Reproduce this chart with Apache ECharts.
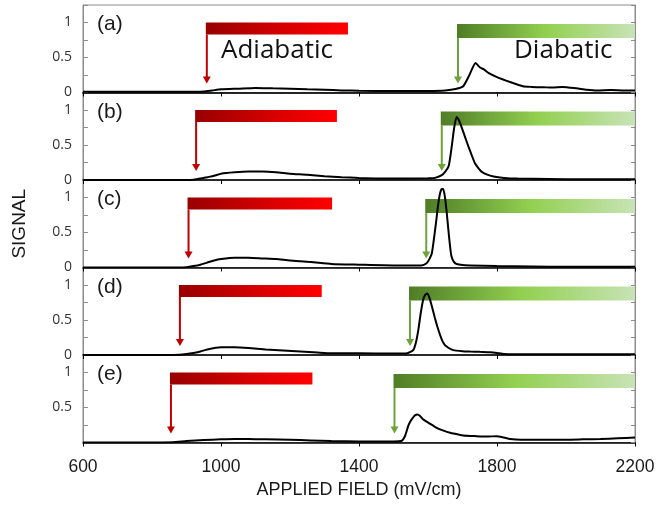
<!DOCTYPE html>
<html>
<head>
<meta charset="utf-8">
<script src="https://cdn.jsdelivr.net/npm/echarts@6/dist/echarts.min.js"></script>
<style>
  html, body { margin: 0; padding: 0; background: #fff; }
  #chart { width: 656px; height: 507px; }
</style>
</head>
<body>
<div id="chart"></div>
<script>
// field ticks
const fieldTicks = [600, 1000, 1400, 1800, 2200]
const panelLabels = ['(a)', '(b)', '(c)', '(d)', '(e)']

// traces (field in mV/cm, signal normalised)
const fieldA = [600, 700, 800, 900, 950, 975, 1000, 1050, 1100, 1150, 1200, 1250, 1300, 1350, 1400, 1500, 1600, 1650, 1680, 1702, 1720, 1738, 1750, 1762, 1775, 1800, 1838, 1875, 1900, 1935, 1960, 1990, 2030, 2060, 2090, 2130, 2170, 2200]
const signalA = [0.01, 0.01, 0.012, 0.01, 0.015, 0.03, 0.045, 0.055, 0.065, 0.06, 0.055, 0.045, 0.04, 0.03, 0.025, 0.02, 0.022, 0.03, 0.05, 0.09, 0.25, 0.42, 0.36, 0.33, 0.28, 0.22, 0.15, 0.09, 0.08, 0.075, 0.07, 0.08, 0.06, 0.04, 0.03, 0.035, 0.03, 0.03]

const fieldB = [600, 700, 800, 900, 920, 940, 960, 980, 1000, 1040, 1080, 1120, 1160, 1200, 1250, 1300, 1350, 1400, 1500, 1600, 1620, 1640, 1650, 1660, 1668, 1676, 1683, 1690, 1697, 1707, 1717, 1727, 1736, 1746, 1755, 1770, 1790, 1820, 1860, 1950, 2050, 2200]
const signalB = [0, 0, 0, 0, 0.005, 0.02, 0.04, 0.06, 0.09, 0.11, 0.12, 0.12, 0.11, 0.09, 0.075, 0.055, 0.04, 0.03, 0.02, 0.025, 0.03, 0.07, 0.12, 0.2, 0.45, 0.75, 0.9, 0.85, 0.76, 0.62, 0.48, 0.35, 0.24, 0.17, 0.12, 0.08, 0.05, 0.03, 0.02, 0.015, 0.01, 0.01]

const fieldC = [600, 700, 800, 880, 900, 920, 940, 960, 980, 1000, 1040, 1080, 1120, 1160, 1200, 1260, 1320, 1400, 1500, 1580, 1596, 1604, 1611, 1617, 1623, 1629, 1635, 1640, 1644, 1649, 1654, 1659, 1664, 1668, 1675, 1683, 1700, 1722, 1800, 1900, 2000, 2100, 2200]
const signalC = [0, 0, 0, 0, 0.005, 0.02, 0.04, 0.07, 0.1, 0.12, 0.14, 0.14, 0.13, 0.12, 0.1, 0.08, 0.05, 0.04, 0.03, 0.03, 0.06, 0.12, 0.2, 0.4, 0.63, 0.88, 1.06, 1.12, 1.12, 1.01, 0.8, 0.54, 0.3, 0.16, 0.08, 0.05, 0.035, 0.03, 0.02, 0.015, 0.01, 0.01, 0.01]

const fieldD = [600, 700, 800, 880, 900, 920, 940, 960, 1000, 1040, 1080, 1130, 1180, 1230, 1280, 1320, 1400, 1500, 1540, 1557, 1565, 1572, 1579, 1586, 1592, 1598, 1604, 1611, 1620, 1630, 1640, 1649, 1660, 1673, 1700, 1722, 1750, 1780, 1800, 1820, 1900, 2000, 2100, 2200]
const signalD = [0, 0, 0, 0.005, 0.015, 0.03, 0.05, 0.08, 0.11, 0.11, 0.1, 0.08, 0.065, 0.05, 0.035, 0.025, 0.025, 0.02, 0.025, 0.07, 0.18, 0.36, 0.6, 0.79, 0.86, 0.88, 0.82, 0.7, 0.53, 0.36, 0.22, 0.14, 0.1, 0.07, 0.055, 0.05, 0.045, 0.04, 0.03, 0.015, 0.01, 0.01, 0.01, 0.01]

const fieldE = [600, 700, 800, 860, 900, 950, 1000, 1040, 1080, 1130, 1200, 1260, 1320, 1400, 1500, 1524, 1534, 1543, 1550, 1557, 1563, 1569, 1577, 1586, 1605, 1625, 1645, 1664, 1683, 1702, 1741, 1770, 1799, 1820, 1838, 1870, 1900, 1950, 2000, 2050, 2100, 2150, 2200]
const signalE = [0, 0, 0, 0.005, 0.02, 0.035, 0.045, 0.05, 0.05, 0.045, 0.04, 0.03, 0.02, 0.015, 0.015, 0.025, 0.1, 0.24, 0.31, 0.36, 0.39, 0.4, 0.38, 0.33, 0.27, 0.21, 0.17, 0.14, 0.12, 0.1, 0.09, 0.085, 0.09, 0.07, 0.05, 0.04, 0.04, 0.04, 0.04, 0.045, 0.05, 0.06, 0.07]

// adiabatic / diabatic onset markers (field values)
const adiabaticStart = [956, 925, 903, 878, 852]
const adiabaticEnd = [1368, 1336, 1322, 1292, 1265]
const diabaticStart = [1684, 1637, 1592, 1545, 1500]
const diabaticEnd = [2200, 2200, 2200, 2200, 2200]

const traces = [
  [fieldA, signalA], [fieldB, signalB], [fieldC, signalC], [fieldD, signalD], [fieldE, signalE],
]

const chart = echarts.init(document.getElementById('chart'), null, { renderer: 'canvas' })

const gridTops = [5, 92.5, 180, 267.5, 355]
const gridH = 87.5
const AXIS_FONT = 'Liberation Sans'

const redStops = [
  { offset: 0, color: '#980000' },
  { offset: 0.6, color: '#dc0000' },
  { offset: 1, color: '#ff0000' },
]
const greenStops = [
  { offset: 0, color: '#4f7d26' },
  { offset: 0.5, color: '#92d050' },
  { offset: 1, color: '#c8e3b6' },
]

function markerRenderer(stops, arrowColor, top, thick) {
  return function (params, api) {
    const a = api.coord([api.value(0), top])
    const b = api.coord([api.value(1), top])
    const t = api.coord([api.value(0), 0.13])
    const x0 = a[0]
    const y0 = a[1]
    const ax = x0 + 1
    return {
      type: 'group',
      children: [
        {
          type: 'rect',
          shape: { x: x0, y: y0, width: b[0] - x0, height: thick },
          style: { fill: new echarts.graphic.LinearGradient(0, 0, 1, 0, stops) },
        },
        {
          type: 'line',
          shape: { x1: ax, y1: y0 + thick, x2: ax, y2: t[1] - 6 },
          style: { stroke: arrowColor, lineWidth: 2 },
        },
        {
          type: 'polygon',
          shape: { points: [[ax - 4, t[1] - 7], [ax + 4, t[1] - 7], [ax, t[1]]] },
          style: { fill: arrowColor },
        },
      ],
    }
  }
}

const grids = []
const xAxes = []
const yAxes = []
const series = []
const graphics = []

gridTops.forEach((top, i) => {
  const last = i === gridTops.length - 1
  grids.push({
    left: 83, right: 21, top: top, height: gridH,
    outerBoundsMode: 'none', containLabel: false,
    show: true, borderColor: '#8c8c8c', borderWidth: 1,
  })

  xAxes.push({
    type: 'value',
    gridIndex: i,
    min: fieldTicks[0],
    max: fieldTicks[fieldTicks.length - 1],
    interval: 400,
    axisLine: { show: true, onZero: false, lineStyle: { color: '#000', width: 1.5 } },
    axisTick: { show: true, length: 4, lineStyle: { color: '#000' } },
    splitLine: { show: false },
    axisLabel: last
      ? { show: true, fontFamily: AXIS_FONT, fontSize: 17.5, color: '#1a1a1a', margin: 16, formatter: (v) => String(v) }
      : { show: false },
    name: last ? 'APPLIED FIELD (mV/cm)' : '',
    nameLocation: 'middle',
    nameGap: 39,
    nameTextStyle: { fontFamily: AXIS_FONT, fontSize: 18, color: '#1a1a1a' },
  })

  yAxes.push({
    type: 'value',
    gridIndex: i,
    min: 0,
    max: 1.25,
    interval: 0.25,
    axisLine: { show: true, lineStyle: { color: '#8c8c8c' } },
    axisTick: { show: true, inside: true, length: 5, lineStyle: { color: '#8c8c8c' } },
    splitLine: { show: false },
    axisLabel: {
      fontFamily: 'Open Sans',
      fontSize: 14,
      color: '#333',
      margin: 11,
      formatter: (v) => {
        if (v === 1) return '1'
        if (v === 0.5) return '0.5'
        if (v === 0 && !last) return '0'
        return ''
      },
    },
    name: i === 2 ? 'SIGNAL' : '',
    nameLocation: 'middle',
    nameGap: 54,
    nameTextStyle: { fontFamily: AXIS_FONT, fontSize: 19, color: '#1a1a1a' },
  })
  yAxes.push({
    type: 'value',
    gridIndex: i,
    position: 'right',
    min: 0,
    max: 1.25,
    interval: 0.25,
    axisLine: { show: true, lineStyle: { color: '#8c8c8c' } },
    axisTick: { show: true, inside: true, length: 4, lineStyle: { color: '#8c8c8c' } },
    axisLabel: { show: false },
    splitLine: { show: false },
  })

  const [fx, sy] = traces[i]
  series.push({
    type: 'custom',
    xAxisIndex: i,
    yAxisIndex: i * 2,
    renderItem: markerRenderer(redStops, '#c00000', 1.0, 12),
    data: [[adiabaticStart[i], adiabaticEnd[i]]],
    z: 2,
    silent: true,
  })
  series.push({
    type: 'custom',
    xAxisIndex: i,
    yAxisIndex: i * 2,
    renderItem: markerRenderer(greenStops, '#6ea33a', 0.98, 14),
    data: [[diabaticStart[i], diabaticEnd[i]]],
    z: 2,
    silent: true,
  })
  series.push({
    type: 'line',
    xAxisIndex: i,
    yAxisIndex: i * 2,
    data: fx.map((x, k) => [x, sy[k]]),
    showSymbol: false,
    smooth: 0.2,
    lineStyle: { color: '#000', width: 2 },
    z: 5,
    silent: true,
  })

  graphics.push({
    type: 'text',
    left: 97,
    top: top + 9,
    style: { text: panelLabels[i], font: '21px "Liberation Sans"', fill: '#1a1a1a' },
  })
})

// black top frame of the first panel
xAxes.push({
  type: 'value',
  gridIndex: 0,
  position: 'top',
  min: 600,
  max: 2200,
  axisLine: { show: true, lineStyle: { color: '#222', width: 1.5 } },
  axisTick: { show: false },
  axisLabel: { show: false },
  splitLine: { show: false },
})

graphics.push({
  type: 'text',
  left: 221,
  top: 38,
  style: { text: 'Adiabatic', font: '26px "Open Sans"', fill: '#111' },
})
graphics.push({
  type: 'text',
  left: 514,
  top: 38,
  style: { text: 'Diabatic', font: '26px "Open Sans"', fill: '#111' },
})

chart.setOption({
  animation: false,
  grid: grids,
  xAxis: xAxes,
  yAxis: yAxes,
  series: series,
  graphic: graphics,
})
</script>
</body>
</html>
